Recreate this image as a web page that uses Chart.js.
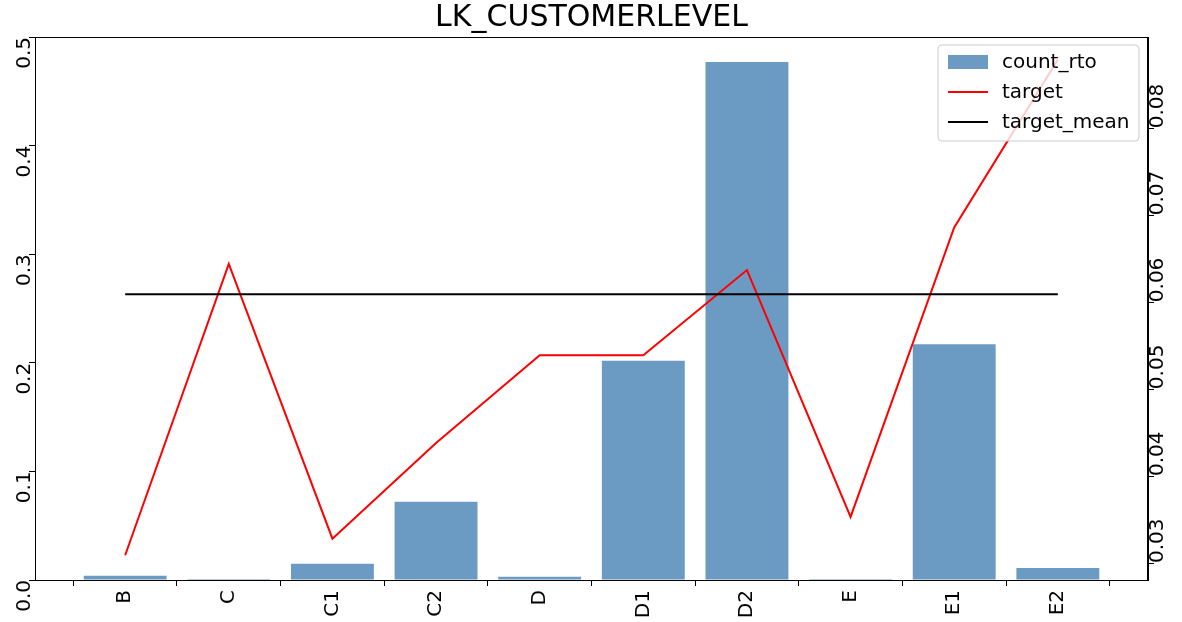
<!DOCTYPE html>
<html>
<head>
<meta charset="utf-8">
<script src="https://cdn.jsdelivr.net/npm/chart.js@4"></script>
<style>
  html, body { margin: 0; padding: 0; background: #fff; }
  #wrap { width: 1182px; height: 622px; }
</style>
</head>
<body>
<div id="wrap"><canvas id="grafico"></canvas></div>
<script>
const categorias = ['B', 'C', 'C1', 'C2', 'D', 'D1', 'D2', 'E', 'E1', 'E2'];
const countRto = [0.004, 0.001, 0.015, 0.072, 0.003, 0.202, 0.477, 0.001, 0.217, 0.011];
const target = [0.0309, 0.0644, 0.0328, 0.0438, 0.0539, 0.0539, 0.0637, 0.0353, 0.0686, 0.0879];
const targetMean = 0.0609;
const titulo = 'LK_CUSTOMERLEVEL';

const fuente = 'DejaVu Sans';

// --- marco, título y leyenda estilo matplotlib ---
const marcoPlugin = {
    id: 'marco',
    afterDraw(chart) {
        const { ctx, chartArea: a } = chart;
        ctx.save();
        ctx.strokeStyle = '#000';
        ctx.lineWidth = 1;
        ctx.strokeRect(a.left + 0.5, a.top + 0.5, a.right - a.left - 1, a.bottom - a.top);

        ctx.fillStyle = '#000';
        ctx.font = '30px "' + fuente + '"';
        ctx.textAlign = 'center';
        ctx.textBaseline = 'middle';
        ctx.fillText(titulo, (a.left + a.right) / 2, 18);

        // leyenda
        const x0 = 938, y0 = 45, w = 201, h = 96;
        ctx.fillStyle = 'rgba(255,255,255,0.8)';
        ctx.strokeStyle = '#ccc';
        ctx.beginPath();
        ctx.roundRect(x0, y0, w, h, 4);
        ctx.fill();
        ctx.stroke();
        const items = [
            { t: 'count_rto', tipo: 'caja', c: 'rgba(70,130,180,0.8)' },
            { t: 'target', tipo: 'linea', c: '#ff0000' },
            { t: 'target_mean', tipo: 'linea', c: '#000' }
        ];
        ctx.font = '20px "' + fuente + '"';
        ctx.textAlign = 'left';
        items.forEach((it, i) => {
            const yc = y0 + 17 + i * 30;
            if (it.tipo === 'caja') {
                ctx.fillStyle = it.c;
                ctx.fillRect(x0 + 10, yc - 7, 40, 14);
            } else {
                ctx.strokeStyle = it.c;
                ctx.lineWidth = 2;
                ctx.beginPath();
                ctx.moveTo(x0 + 10, yc);
                ctx.lineTo(x0 + 50, yc);
                ctx.stroke();
            }
            ctx.fillStyle = '#000';
            ctx.fillText(it.t, x0 + 64, yc + 1);
        });
        ctx.restore();
    }
};

const ejeComun = {
    border: { display: true, color: '#000', width: 1 },
    grid: { drawOnChartArea: false, drawTicks: true, tickLength: 6, color: '#000' },
};

new Chart(document.getElementById('grafico'), {
    data: {
        datasets: [
            {
                type: 'line', label: 'target_mean', yAxisID: 'y2', order: 0,
                data: [{ x: 0, y: targetMean }, { x: categorias.length - 1, y: targetMean }],
                borderColor: '#000', borderWidth: 2, pointRadius: 0
            },
            {
                type: 'line', label: 'target', yAxisID: 'y2', order: 1,
                data: target.map((v, i) => ({ x: i, y: v })),
                borderColor: '#ff0000', borderWidth: 2, pointRadius: 0, tension: 0
            },
            {
                type: 'bar', label: 'count_rto', yAxisID: 'y', order: 2,
                data: countRto.map((v, i) => ({ x: i, y: v })),
                backgroundColor: 'rgba(70,130,180,0.8)',
                barPercentage: 0.8, categoryPercentage: 1
            }
        ]
    },
    options: {
        responsive: true, maintainAspectRatio: false, animation: false,
        layout: { padding: { top: 37, left: 0, right: 0, bottom: 0 } },
        plugins: { legend: { display: false }, tooltip: { enabled: false }, title: { display: false } },
        scales: {
            x: {
                type: 'linear', min: -0.87, max: 9.87, offset: false,
                ...ejeComun,
                afterBuildTicks: s => { s.ticks = categorias.map((c, i) => ({ value: i })); },
                afterFit: s => { s.height = 42; },
                ticks: {
                    color: '#000', font: { family: fuente, size: 20 },
                    minRotation: 90, maxRotation: 90, autoSkip: false, padding: 4,
                    callback: v => categorias[v]
                }
            },
            y: {
                position: 'left', min: 0, max: 0.5,
                ...ejeComun,
                afterFit: s => { s.width = 35; },
                ticks: {
                    color: '#000', font: { family: fuente, size: 20 }, stepSize: 0.1,
                    minRotation: 90, maxRotation: 90, padding: 4,
                    callback: v => v.toFixed(1)
                }
            },
            y2: {
                position: 'right', min: 0.02805, max: 0.0905,
                ...ejeComun,
                afterBuildTicks: s => { s.ticks = [0.03, 0.04, 0.05, 0.06, 0.07, 0.08].map(v => ({ value: v })); },
                afterFit: s => { s.width = 34; },
                ticks: {
                    color: '#000', font: { family: fuente, size: 20 },
                    minRotation: 90, maxRotation: 90, padding: 4,
                    callback: v => v.toFixed(2)
                }
            }
        }
    },
    plugins: [marcoPlugin]
});
</script>
</body>
</html>
